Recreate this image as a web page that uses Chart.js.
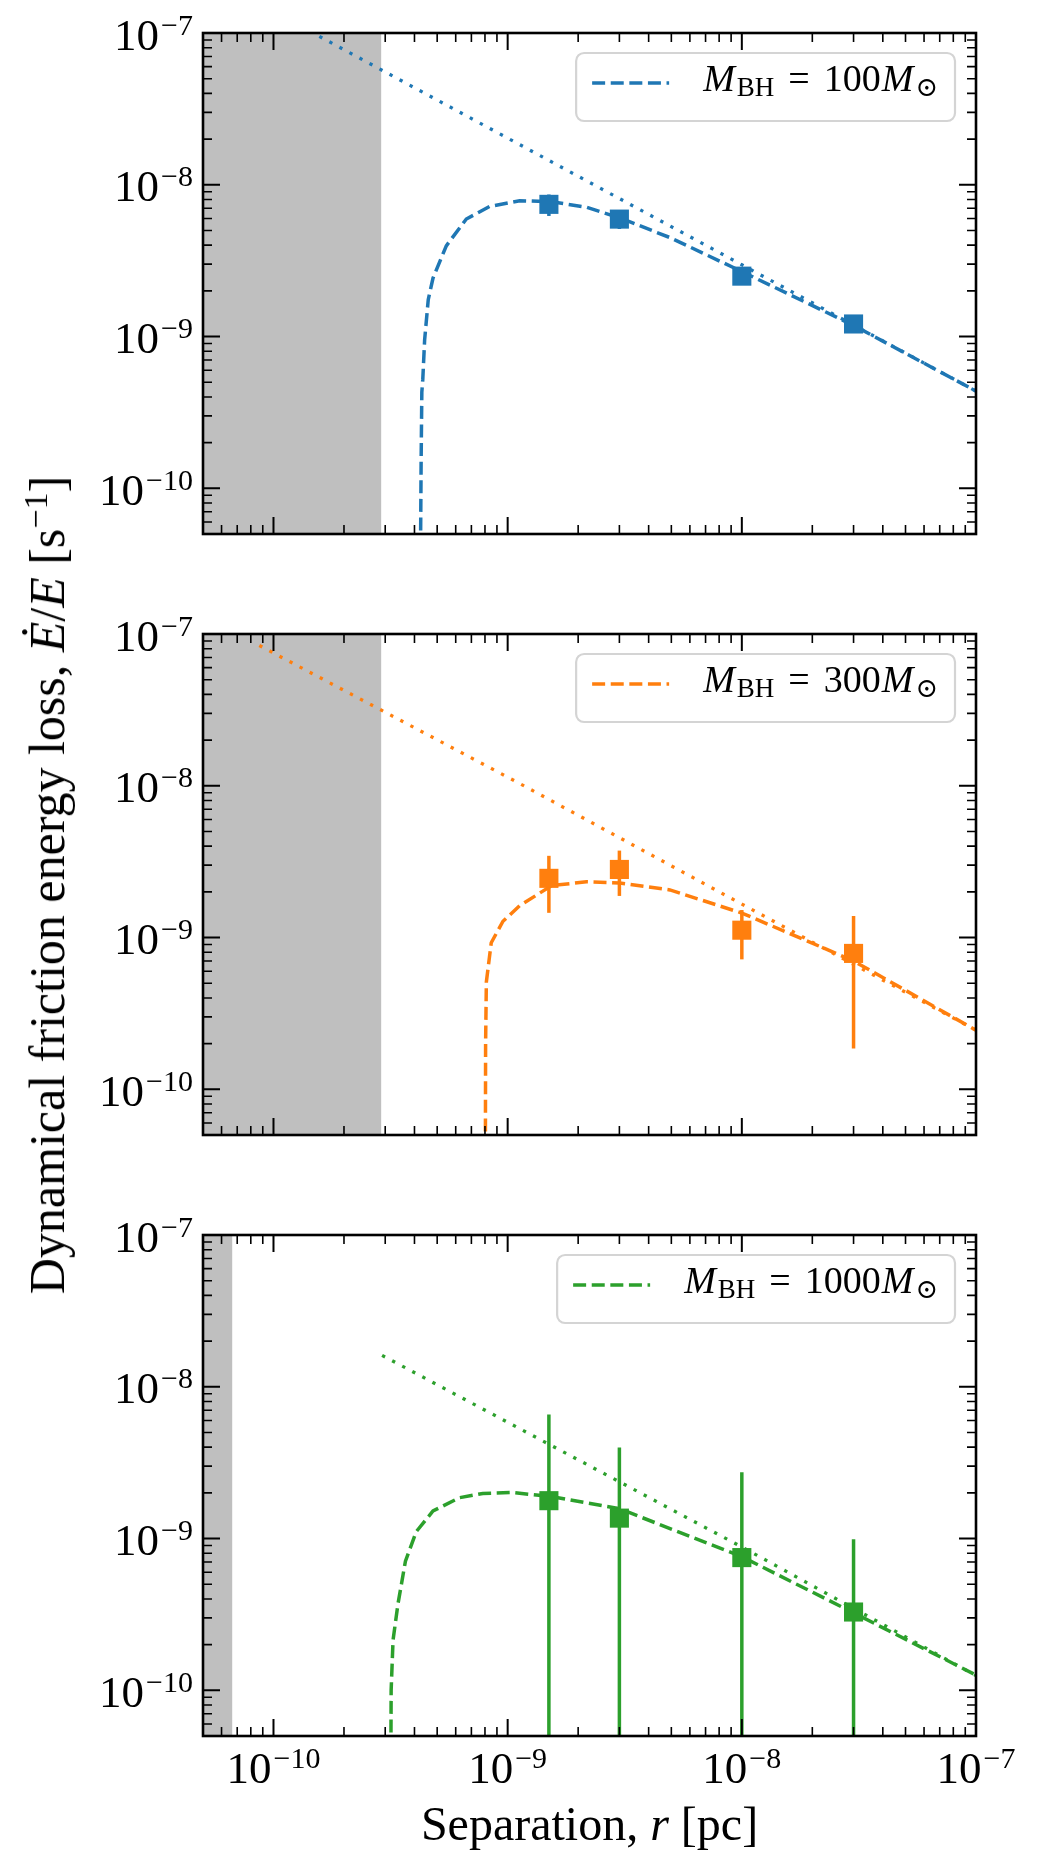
<!DOCTYPE html>
<html>
<head>
<meta charset="utf-8">
<script src="https://cdn.jsdelivr.net/npm/chart.js@4.4.0/dist/chart.umd.min.js"></script>
<style>
  body { margin: 0; background: #fff; }
  #page { position: relative; width: 1052px; height: 1851px; overflow: hidden;
          font-family: 'Liberation Serif', 'DejaVu Serif', 'Noto Serif', 'Times New Roman', serif; color: #000; }
  #page canvas { position: absolute; left: 0; }
  #ytitle { position: absolute; left: 49.5px; top: 885px; transform: translate(-50%, -50%) rotate(-90deg);
            white-space: nowrap; font-size: 50px; line-height: 50px; }
  #xtitle { position: absolute; left: 589.5px; top: 1800px; transform: translateX(-50%);
            white-space: nowrap; font-size: 48px; line-height: 48px; }
  sup { font-size: 0.68em; vertical-align: 0; position: relative; top: -0.5em; }
</style>
</head>
<body>
<div id="page">
  <canvas id="panel1" width="1052" height="600" style="top:0px"></canvas>
  <canvas id="panel2" width="1052" height="600" style="top:600px"></canvas>
  <canvas id="panel3" width="1052" height="651" style="top:1200px"></canvas>
  <div id="ytitle">Dynamical friction energy loss, <i>Ė</i>/<i>E</i> [s<sup>−1</sup>]</div>
  <div id="xtitle">Separation, <i>r</i> [pc]</div>
</div>
<script>
// axis limits and tick labels (powers of ten)
const xMin = 5e-11, xMax = 1e-7;
const yMin = 5e-11, yMax = 1e-7;
const tickExponents = [-10, -9, -8, -7];

const massLabels = ['100', '300', '1000'];
const colors = ['#1f77b4', '#ff7f0e', '#2ca02c'];
const shadeColor = '#bfbfbf';

// right edge of the grey excluded region, per panel
const excludedEdge = [2.89e-10, 2.89e-10, 6.68e-11];

// simulation points, same separations in every panel
const rSim = [1.5e-9, 3e-9, 1e-8, 3e-8];
const sim100 = [7.43e-9, 5.94e-9, 2.5e-9, 1.21e-9];
const err100 = [1.2e-9, 0.83e-9, 0.3e-9, 0.1e-9];
const sim300 = [2.455e-9, 2.81e-9, 1.118e-9, 7.86e-10];
const err300 = [1.0e-9, 0.93e-9, 0.4e-9, 0.6e-9];
const sim1000 = [1.776e-9, 1.363e-9, 7.49e-10, 3.28e-10];
const err1000 = [4.78e-9, 2.61e-9, 1.98e-9, 6.6e-10];

// model curves (dashed)
const rModel100 = [4.24e-10, 4.27e-10, 4.30e-10, 4.34e-10, 4.42e-10, 4.58e-10, 4.80e-10, 5.47e-10, 6.66e-10, 8.37e-10, 1.125e-9, 1.54e-9, 2.17e-9, 3.01e-9, 4.93e-9, 1e-8, 2.98e-8, 1e-7];
const model100 = [3e-11, 1.5e-10, 4.3e-10, 5.2e-10, 9.5e-10, 1.75e-9, 2.43e-9, 3.96e-9, 5.95e-9, 7.19e-9, 7.85e-9, 7.73e-9, 7.12e-9, 6.05e-9, 4.49e-9, 2.68e-9, 1.19e-9, 4.37e-10];
const rModel300 = [8.03e-10, 8.05e-10, 8.11e-10, 8.51e-10, 9.55e-10, 1.125e-9, 1.54e-9, 2.17e-9, 3.01e-9, 4.93e-9, 1e-8, 2.98e-8, 1e-7];
const model300 = [3e-11, 2e-10, 5.1e-10, 9.25e-10, 1.28e-9, 1.62e-9, 2.2e-9, 2.33e-9, 2.29e-9, 2.06e-9, 1.45e-9, 7.05e-10, 2.45e-10];
const rModel1000 = [3.17e-10, 3.18e-10, 3.24e-10, 3.40e-10, 3.66e-10, 4.07e-10, 4.80e-10, 6.24e-10, 7.83e-10, 1.05e-9, 1.54e-9, 3.01e-9, 1e-8, 3e-8, 1e-7];
const model1000 = [3e-11, 1e-10, 2.14e-10, 3.7e-10, 7.1e-10, 1.11e-9, 1.52e-9, 1.86e-9, 1.98e-9, 2.01e-9, 1.89e-9, 1.57e-9, 7.59e-10, 3.24e-10, 1.26e-10];

// power-law limit (dotted)
const rPow100 = [1.57e-10, 1.125e-9, 1e-8, 1e-7];
const pow100 = [9.5e-8, 1.84e-8, 2.97e-9, 4.37e-10];
const rPow300 = [8.7e-11, 1.125e-9, 1e-8, 1e-7];
const pow300 = [8.4e-8, 1.035e-8, 1.66e-9, 2.45e-10];
const rPow1000 = [2.91e-10, 1e-8, 1e-7];
const pow1000 = [1.61e-8, 8.8e-10, 1.25e-10];

const SERIF = '"Liberation Serif", "DejaVu Serif", "Noto Serif", serif';

function pairs(xs, ys) {
    return xs.map((x, i) => ({ x: x, y: ys[i] }));
}

function buildDatasets(color, rModel, vModel, rPow, vPow, vSim, eSim, edge) {
    const sets = [];
    // grey excluded region
    sets.push({
        data: [{ x: xMin, y: yMax }, { x: edge, y: yMax }],
        showLine: true, fill: 'start', backgroundColor: shadeColor,
        borderWidth: 0, pointRadius: 0, order: 10
    });
    sets.push({
        data: pairs(rPow, vPow), showLine: true, borderColor: color,
        borderWidth: 3.3, borderDash: [3.3, 8.1], pointRadius: 0, order: 9
    });
    sets.push({
        data: pairs(rModel, vModel), showLine: true, borderColor: color,
        borderWidth: 3.5, borderDash: [13, 5.6], pointRadius: 0, order: 8
    });
    // error bars
    rSim.forEach((r, i) => {
        sets.push({
            data: [{ x: r, y: Math.max(vSim[i] - eSim[i], 1e-13) }, { x: r, y: vSim[i] + eSim[i] }],
            showLine: true, borderColor: color, borderWidth: 3.5, pointRadius: 0, order: 2
        });
    });
    sets.push({
        data: pairs(rSim, vSim), showLine: false, pointStyle: 'rect',
        pointRadius: 13.5, backgroundColor: color, borderWidth: 0, order: 1
    });
    return sets;
}

function drawPower(ctx, exp, x, baseY, align) {
    const base = '10';
    const sup = '\u2212' + Math.abs(exp);
    ctx.font = '45px ' + SERIF;
    const wb = ctx.measureText(base).width;
    ctx.font = '30px ' + SERIF;
    const ws = ctx.measureText(sup).width;
    const total = wb + 2 + ws;
    const left = align === 'right' ? x - total : x - total / 2;
    ctx.textAlign = 'left';
    ctx.textBaseline = 'alphabetic';
    ctx.font = '45px ' + SERIF;
    ctx.fillText(base, left, baseY);
    ctx.font = '30px ' + SERIF;
    ctx.fillText(sup, left + wb + 2, baseY - 15);
}

const panelDeco = {
    id: 'panelDeco',
    afterDatasetsDraw(chart, args, opts) {
        const ctx = chart.ctx;
        const a = chart.chartArea;
        const xs = chart.scales.x, ys = chart.scales.y;
        ctx.save();
        ctx.strokeStyle = '#000';
        ctx.fillStyle = '#000';
        ctx.setLineDash([]);

        // inward ticks on all four sides
        for (let e = -11; e <= -7; e++) {
            for (let m = 1; m <= 9; m++) {
                const v = m * Math.pow(10, e);
                const major = m === 1;
                const len = major ? 17 : 9;
                ctx.lineWidth = major ? 2 : 1.6;
                ctx.beginPath();
                if (v >= xMin * 0.999 && v <= xMax * 1.001) {
                    const px = xs.getPixelForValue(v);
                    ctx.moveTo(px, a.bottom); ctx.lineTo(px, a.bottom - len);
                    ctx.moveTo(px, a.top); ctx.lineTo(px, a.top + len);
                }
                if (v >= yMin * 0.999 && v <= yMax * 1.001) {
                    const py = ys.getPixelForValue(v);
                    ctx.moveTo(a.left, py); ctx.lineTo(a.left + len, py);
                    ctx.moveTo(a.right, py); ctx.lineTo(a.right - len, py);
                }
                ctx.stroke();
            }
        }

        // frame
        ctx.lineWidth = 2.6;
        ctx.strokeRect(a.left, a.top, a.right - a.left, a.bottom - a.top);

        // tick labels
        tickExponents.forEach(exp => {
            const py = ys.getPixelForValue(Math.pow(10, exp));
            drawPower(ctx, exp, a.left - 10, py + 16.5, 'right');
            if (opts.showX) {
                const px = xs.getPixelForValue(Math.pow(10, exp));
                drawPower(ctx, exp, px, a.bottom + 47, 'center');
            }
        });

        // legend
        const itFont = 'italic 38px ' + SERIF;
        const rmFont = '38px ' + SERIF;
        const subFont = '27px ' + SERIF;
        const parts = [
            { t: 'M', f: itFont, dy: 0, gap: 2 },
            { t: 'BH', f: subFont, dy: 5, gap: 14 },
            { t: '=', f: rmFont, dy: 0, gap: 14 },
            { t: opts.mass, f: rmFont, dy: 0, gap: 1 },
            { t: 'M', f: itFont, dy: 0, gap: 2 },
            { t: '\u2299', f: subFont, dy: 5, gap: 0 }
        ];
        let textW = 0;
        parts.forEach(p => { ctx.font = p.f; p.w = ctx.measureText(p.t).width; textW += p.w + p.gap; });
        const boxW = 16 + 77 + 34 + textW + 17;
        const boxH = 68;
        const boxR = a.right - 21;
        const boxL = boxR - boxW;
        const boxT = a.top + 20;
        ctx.beginPath();
        ctx.roundRect(boxL, boxT, boxW, boxH, 8);
        ctx.fillStyle = 'rgba(255,255,255,0.8)';
        ctx.fill();
        ctx.lineWidth = 2.2;
        ctx.strokeStyle = '#d4d4d4';
        ctx.stroke();

        ctx.strokeStyle = opts.color;
        ctx.lineWidth = 3.5;
        ctx.setLineDash([13, 5.6]);
        ctx.beginPath();
        ctx.moveTo(boxL + 16, boxT + 30);
        ctx.lineTo(boxL + 93, boxT + 30);
        ctx.stroke();
        ctx.setLineDash([]);

        ctx.fillStyle = '#000';
        ctx.textAlign = 'left';
        ctx.textBaseline = 'alphabetic';
        let tx = boxL + 127;
        parts.forEach(p => {
            ctx.font = p.f;
            ctx.fillText(p.t, tx, boxT + 38 + p.dy);
            tx += p.w + p.gap;
        });
        ctx.restore();
    }
};

function makePanel(canvasId, idx, datasets, padTop, padBottom, showX) {
    return new Chart(document.getElementById(canvasId), {
        type: 'scatter',
        data: { datasets: datasets },
        options: {
            responsive: false,
            animation: false,
            devicePixelRatio: 1,
            events: [],
            layout: { padding: { left: 203, right: 76, top: padTop, bottom: padBottom } },
            elements: { line: { tension: 0 } },
            scales: {
                x: { type: 'logarithmic', min: xMin, max: xMax, display: false },
                y: { type: 'logarithmic', min: yMin, max: yMax, display: false }
            },
            plugins: {
                legend: { display: false },
                tooltip: { enabled: false },
                panelDeco: { mass: massLabels[idx], color: colors[idx], showX: showX }
            }
        },
        plugins: [panelDeco]
    });
}

makePanel('panel1', 0,
    buildDatasets(colors[0], rModel100, model100, rPow100, pow100, sim100, err100, excludedEdge[0]),
    33, 66, false);
makePanel('panel2', 1,
    buildDatasets(colors[1], rModel300, model300, rPow300, pow300, sim300, err300, excludedEdge[1]),
    34, 65, false);
makePanel('panel3', 2,
    buildDatasets(colors[2], rModel1000, model1000, rPow1000, pow1000, sim1000, err1000, excludedEdge[2]),
    35, 115, true);
</script>
</body>
</html>
